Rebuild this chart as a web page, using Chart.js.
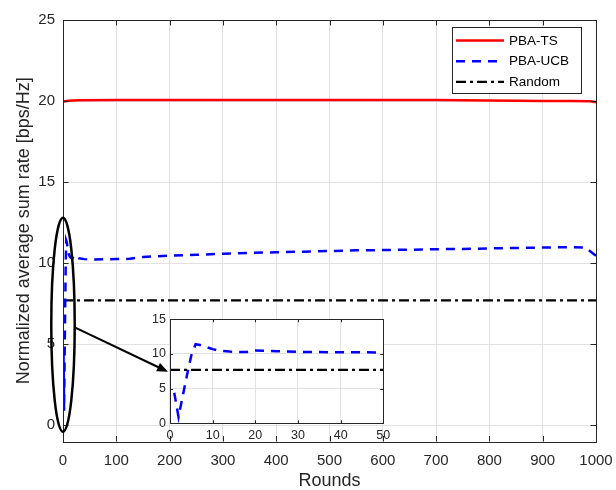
<!DOCTYPE html>
<html><head><meta charset="utf-8">
<script src="https://cdn.jsdelivr.net/npm/chart.js@4"></script>
<style>
html,body{margin:0;padding:0;background:#fff;}
#wrap{position:relative;width:616px;height:490px;overflow:hidden;}
#main{position:absolute;left:0;top:0;}
#inset{position:absolute;left:130px;top:305px;}
</style></head><body>
<div id="wrap"><canvas id="main" width="616" height="490"></canvas><canvas id="inset" width="270" height="145"></canvas></div>
<script>
// ---- data ----
const xTicks = [0,100,200,300,400,500,600,700,800,900,1000];
const yTicks = [0,5,10,15,20,25];
const insetXTicks = [0,10,20,30,40,50];
const insetYTicks = [0,5,10,15];
const seriesNames = ['PBA-TS','PBA-UCB','Random'];
const tsRounds = [1,10,30,100,200,300,400,500,600,700,800,900,950,990,1000];
const tsValues = [19.97,20.02,20.05,20.07,20.07,20.07,20.07,20.06,20.06,20.06,20.03,20.01,20.0,19.99,19.93];
const ucbRounds = [1,2,3,4,5,6,7,8,9,10,11,12,14,16,18,20,22,25,30,40,50,100,125,150,200,250,300,350,400,450,500,550,600,650,700,750,800,850,900,950,980,1000];
const ucbValues = [4.4,0.9,4.0,7.0,9.8,11.4,11.3,11.1,10.9,10.7,10.55,10.45,10.35,10.3,10.3,10.5,10.45,10.4,10.3,10.25,10.22,10.25,10.27,10.38,10.47,10.52,10.58,10.64,10.67,10.71,10.75,10.79,10.81,10.83,10.86,10.88,10.91,10.94,10.96,10.99,10.97,10.45];
const randomRounds = [0,1000];
const randomValues = [7.7,7.7];
// zoom annotation (data units): ellipse around early rounds, arrow to inset
const markEllipse = {x:0, halfWidth:22, yLow:-0.4, yHigh:12.8};
const markArrow = {x1:21, y1:6.05, x2:197, y2:3.3};

const FONT = "'Liberation Sans', Arial, sans-serif";
const TXT = '#262626';
const GRID = '#e2e2e2';

function pts(xs, ys){ return xs.map((v,i)=>({x:v, y:ys[i]})); }
function makeDatasets(){
  return [
    {label:seriesNames[0], data:pts(tsRounds,tsValues), borderColor:'#ff0000', borderWidth:2.5, pointRadius:0, fill:false},
    {label:seriesNames[1], data:pts(ucbRounds,ucbValues), borderColor:'#0000ff', borderWidth:2.5, borderDash:[9,7], pointRadius:0, fill:false},
    {label:seriesNames[2], data:pts(randomRounds,randomValues), borderColor:'#000000', borderWidth:2.2, borderDash:[10,4,3,4], pointRadius:0, fill:false}
  ];
}

function framePlugin(tickLen){
  return {
    id:'frame'+tickLen,
    beforeDraw(chart){
      const {ctx, chartArea:a} = chart;
      ctx.save(); ctx.fillStyle='#fff';
      ctx.fillRect(a.left,a.top,a.right-a.left,a.bottom-a.top); ctx.restore();
    },
    afterDatasetsDraw(chart){
      const {ctx, chartArea:a, scales:{x,y}} = chart;
      ctx.save();
      ctx.strokeStyle = TXT; ctx.lineWidth = 1;
      ctx.beginPath();
      x.ticks.forEach(t=>{const p=Math.round(x.getPixelForValue(t.value))+0.5;
        ctx.moveTo(p,a.bottom); ctx.lineTo(p,a.bottom-tickLen);
        ctx.moveTo(p,a.top); ctx.lineTo(p,a.top+tickLen);});
      y.ticks.forEach(t=>{const p=Math.round(y.getPixelForValue(t.value))+0.5;
        ctx.moveTo(a.left,p); ctx.lineTo(a.left+tickLen,p);
        ctx.moveTo(a.right,p); ctx.lineTo(a.right-tickLen,p);});
      ctx.stroke();
      ctx.strokeRect(Math.round(a.left)+0.5, Math.round(a.top)+0.5, Math.round(a.right)-Math.round(a.left), Math.round(a.bottom)-Math.round(a.top));
      ctx.restore();
    }
  };
}

const annotPlugin = {
  id:'annot',
  afterDraw(chart){
    const {ctx, scales:{x,y}} = chart;
    ctx.save();
    const cx = x.getPixelForValue(markEllipse.x);
    const rx = x.getPixelForValue(markEllipse.halfWidth) - cx;
    const yt = y.getPixelForValue(markEllipse.yHigh), yb = y.getPixelForValue(markEllipse.yLow);
    ctx.strokeStyle='#000'; ctx.lineWidth=2.5;
    ctx.beginPath(); ctx.ellipse(cx,(yt+yb)/2,rx,(yb-yt)/2,0,0,Math.PI*2); ctx.stroke();
    const x1=x.getPixelForValue(markArrow.x1), y1=y.getPixelForValue(markArrow.y1);
    const x2=x.getPixelForValue(markArrow.x2), y2=y.getPixelForValue(markArrow.y2);
    const ang=Math.atan2(y2-y1,x2-x1), hl=11, hw=4.5;
    ctx.lineWidth=2;
    ctx.beginPath(); ctx.moveTo(x1,y1); ctx.lineTo(x2-Math.cos(ang)*hl*0.8,y2-Math.sin(ang)*hl*0.8); ctx.stroke();
    ctx.fillStyle='#000';
    ctx.beginPath(); ctx.moveTo(x2,y2);
    ctx.lineTo(x2-Math.cos(ang)*hl - Math.sin(ang)*hw, y2-Math.sin(ang)*hl + Math.cos(ang)*hw);
    ctx.lineTo(x2-Math.cos(ang)*hl + Math.sin(ang)*hw, y2-Math.sin(ang)*hl - Math.cos(ang)*hw);
    ctx.closePath(); ctx.fill();
    ctx.restore();
  }
};

const legendPlugin = {
  id:'mylegend',
  afterDraw(chart){
    const {ctx} = chart;
    const bx=452, by=27, bw=129, bh=66, rowH=20.7;
    ctx.save();
    ctx.fillStyle='#fff'; ctx.fillRect(bx,by,bw,bh);
    ctx.strokeStyle='#262626'; ctx.lineWidth=1; ctx.strokeRect(bx+0.5,by+0.5,bw,bh);
    ctx.font = '13.5px '+FONT; ctx.textBaseline='middle'; ctx.textAlign='left';
    chart.data.datasets.forEach((d,i)=>{
      const yy = by+13.5+i*rowH;
      ctx.strokeStyle=d.borderColor; ctx.lineWidth=d.borderWidth;
      ctx.setLineDash(d.borderDash||[]);
      ctx.beginPath(); ctx.moveTo(bx+4,yy); ctx.lineTo(bx+52,yy); ctx.stroke();
      ctx.setLineDash([]);
      ctx.fillStyle='#000'; ctx.fillText(d.label, bx+57, yy+0.5);
    });
    ctx.restore();
  }
};

function fixTicks(arr){ return function(scale){ scale.ticks = arr.map(v=>({value:v})); }; }

new Chart(document.getElementById('main'), {
  type:'line',
  data:{datasets:makeDatasets()},
  options:{
    responsive:false, animation:false, devicePixelRatio:1,
    layout:{padding:{left:0, top:20, right:20, bottom:0}},
    plugins:{legend:{display:false}, tooltip:{enabled:false}},
    scales:{
      x:{type:'linear', min:0, max:1000,
        afterBuildTicks:fixTicks(xTicks),
        afterFit(s){ s.height = 48.5; s.paddingRight = 0; s.paddingLeft = 0; },
        grid:{color:GRID, drawTicks:false, lineWidth:1},
        border:{display:false},
        ticks:{color:TXT, font:{family:FONT,size:15}, padding:10, maxRotation:0, autoSkip:false, callback:v=>String(v)},
        title:{display:true, text:'Rounds', color:TXT, font:{family:FONT,size:18, lineHeight:1}, padding:{top:0,bottom:0}}
      },
      y:{type:'linear', min:-1, max:25,
        afterBuildTicks:fixTicks(yTicks),
        afterFit(s){ s.width = 63; s.paddingTop = 0; s.paddingBottom = 0; },
        grid:{color:GRID, drawTicks:false, lineWidth:1},
        border:{display:false},
        ticks:{color:TXT, font:{family:FONT,size:15}, padding:8, autoSkip:false, callback:v=>String(v)},
        title:{display:true, text:'Normalized average sum rate [bps/Hz]', color:TXT, font:{family:FONT,size:18, lineHeight:1}, padding:{top:15,bottom:0}}
      }
    }
  },
  plugins:[framePlugin(5.5), annotPlugin, legendPlugin]
});

new Chart(document.getElementById('inset'), {
  type:'line',
  data:{datasets:makeDatasets()},
  options:{
    responsive:false, animation:false, devicePixelRatio:1,
    layout:{padding:{left:0, top:14.3, right:16.7, bottom:0}},
    plugins:{legend:{display:false}, tooltip:{enabled:false}},
    scales:{
      x:{type:'linear', min:0, max:50,
        afterBuildTicks:fixTicks(insetXTicks),
        afterFit(s){ s.height = 26.7; s.paddingRight = 0; s.paddingLeft = 0; },
        grid:{color:GRID, drawTicks:false},
        border:{display:false},
        ticks:{color:TXT, font:{family:FONT,size:12.5}, padding:5, maxRotation:0, autoSkip:false, callback:v=>String(v)}
      },
      y:{type:'linear', min:0, max:15,
        afterBuildTicks:fixTicks(insetYTicks),
        afterFit(s){ s.width = 40; s.paddingTop = 0; s.paddingBottom = 0; },
        grid:{color:GRID, drawTicks:false},
        border:{display:false},
        ticks:{color:TXT, font:{family:FONT,size:12.5}, padding:4, autoSkip:false, callback:v=>String(v)}
      }
    }
  },
  plugins:[framePlugin(3)]
});
</script>
</body></html>
